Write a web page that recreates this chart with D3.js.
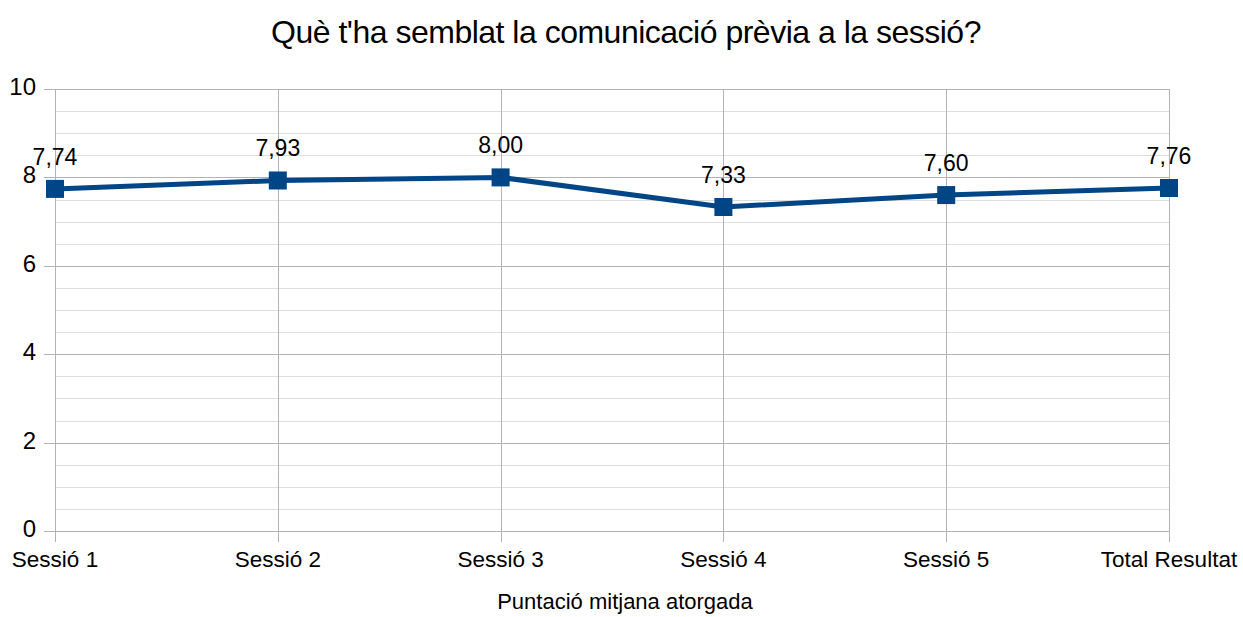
<!DOCTYPE html>
<html>
<head>
<meta charset="utf-8">
<script src="https://cdn.jsdelivr.net/npm/d3@7"></script>
<style>
  body { margin: 0; background: #fff; }
  text { font-family: "Liberation Sans", Arial, sans-serif; fill: #000; }
</style>
</head>
<body>
<script>
const categories = ["Sessió 1", "Sessió 2", "Sessió 3", "Sessió 4", "Sessió 5", "Total Resultat"];
const values = [7.74, 7.93, 8.00, 7.33, 7.60, 7.76];
const yTicks = [0, 2, 4, 6, 8, 10];
const yMinor = d3.range(0, 10.01, 0.5);

const W = 1243, H = 617;
const plotLeft = 55, plotRight = 1169, plotTop = 89, plotBottom = 531;

const svg = d3.select("body").append("svg")
    .attr("width", W).attr("height", H);

const x = d3.scalePoint().domain(categories).range([plotLeft, plotRight]);
const y = d3.scaleLinear().domain([0, 10]).range([plotBottom, plotTop]);

// minor grid
svg.append("g").selectAll("line")
  .data(yMinor.filter(v => v % 2 !== 0))
  .enter().append("line")
    .attr("x1", plotLeft).attr("x2", plotRight)
    .attr("y1", d => Math.round(y(d)) + 0.5).attr("y2", d => Math.round(y(d)) + 0.5)
    .attr("stroke", "#dddddd").attr("stroke-width", 1);

// major grid
svg.append("g").selectAll("line")
  .data(yTicks)
  .enter().append("line")
    .attr("x1", plotLeft - 11).attr("x2", plotRight)
    .attr("y1", d => Math.round(y(d)) + 0.5).attr("y2", d => Math.round(y(d)) + 0.5)
    .attr("stroke", "#b3b3b3").attr("stroke-width", 1);

// vertical grid
svg.append("g").selectAll("line")
  .data(categories)
  .enter().append("line")
    .attr("x1", d => Math.round(x(d)) + 0.5).attr("x2", d => Math.round(x(d)) + 0.5)
    .attr("y1", plotTop).attr("y2", plotBottom + 11)
    .attr("stroke", "#b3b3b3").attr("stroke-width", 1);

// y tick labels
svg.append("g").selectAll("text")
  .data(yTicks)
  .enter().append("text")
    .attr("x", 36).attr("y", d => y(d))
    .attr("dy", "0.25em")
    .attr("text-anchor", "end")
    .style("font-size", "24px")
    .text(d => d);

// x tick labels
svg.append("g").selectAll("text")
  .data(categories)
  .enter().append("text")
    .attr("x", d => x(d)).attr("y", 567)
    .attr("text-anchor", "middle")
    .style("font-size", "22.5px")
    .text(d => d);

// line
const line = d3.line().x((d, i) => x(categories[i])).y(d => y(d));
svg.append("path")
    .datum(values)
    .attr("d", line)
    .attr("fill", "none")
    .attr("stroke", "#004586")
    .attr("stroke-width", 5);

// markers
svg.append("g").selectAll("rect")
  .data(values)
  .enter().append("rect")
    .attr("x", (d, i) => x(categories[i]) - 9)
    .attr("y", d => y(d) - 9)
    .attr("width", 18).attr("height", 18)
    .attr("fill", "#004586");

// data labels
svg.append("g").selectAll("text")
  .data(values)
  .enter().append("text")
    .attr("x", (d, i) => x(categories[i]))
    .attr("y", d => y(d) - 24)
    .attr("text-anchor", "middle")
    .style("font-size", "23px")
    .text(d => d.toFixed(2).replace(".", ","));

// title
svg.append("text")
    .attr("x", 626).attr("y", 43)
    .attr("text-anchor", "middle")
    .style("font-size", "32px")
    .style("letter-spacing", "-0.5px")
    .text("Què t'ha semblat la comunicació prèvia a la sessió?");

// axis title
svg.append("text")
    .attr("x", 625).attr("y", 609)
    .attr("text-anchor", "middle")
    .style("font-size", "22px")
    .text("Puntació mitjana atorgada");
</script>
</body>
</html>
